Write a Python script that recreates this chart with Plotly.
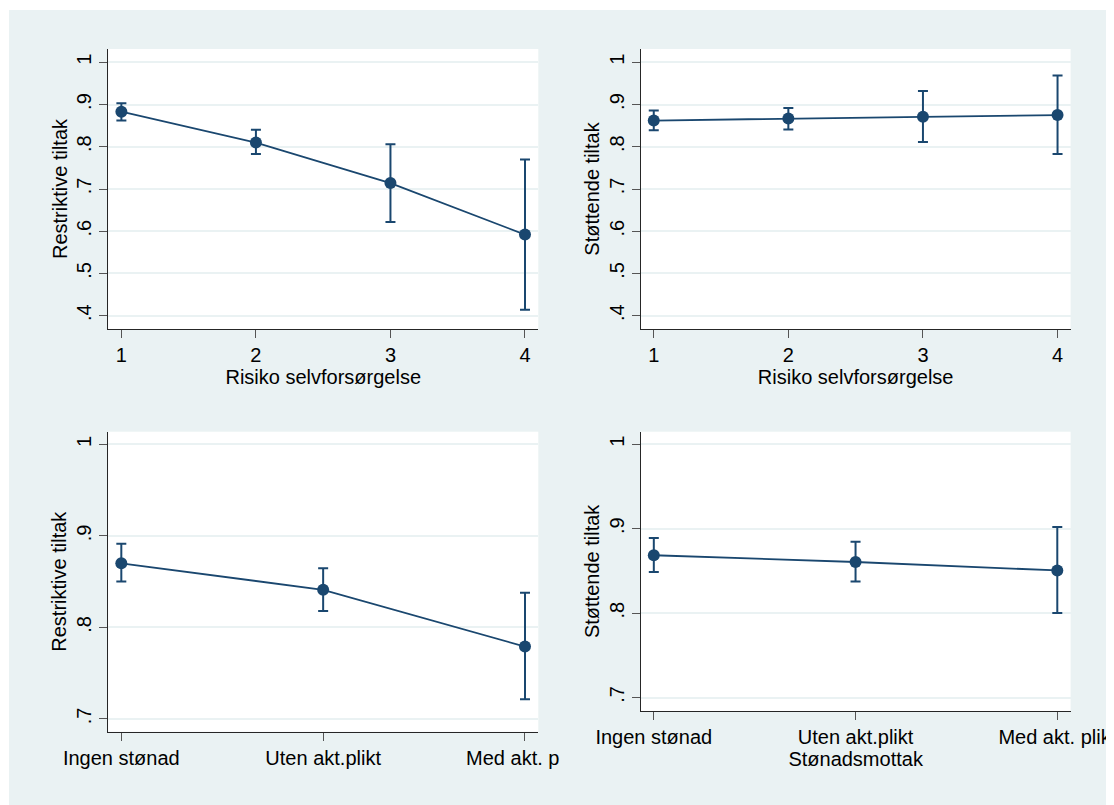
import plotly.graph_objects as go

# ---------------- data ----------------
risk_levels = [1, 2, 3, 4]
risk_ticktext = ["1", "2", "3", "4"]

restr_risk_est = [0.883, 0.810, 0.714, 0.592]
restr_risk_lo = [0.862, 0.783, 0.622, 0.414]
restr_risk_hi = [0.903, 0.840, 0.806, 0.770]

stott_risk_est = [0.862, 0.867, 0.871, 0.875]
stott_risk_lo = [0.839, 0.841, 0.811, 0.783]
stott_risk_hi = [0.886, 0.892, 0.932, 0.969]

stonad_categories = ["Ingen stønad", "Uten akt.plikt", "Med akt. plikt"]
stonad_pos = [1, 2, 3]

restr_stonad_est = [0.870, 0.841, 0.779]
restr_stonad_lo = [0.850, 0.818, 0.7215]
restr_stonad_hi = [0.8915, 0.8646, 0.8377]

stott_stonad_est = [0.8685, 0.8605, 0.8505]
stott_stonad_lo = [0.8486, 0.8375, 0.800]
stott_stonad_hi = [0.889, 0.8846, 0.902]

top_yticks = [0.4, 0.5, 0.6, 0.7, 0.8, 0.9, 1.0]
top_yticktext = [".4", ".5", ".6", ".7", ".8", ".9", "1"]
bot_yticks = [0.7, 0.8, 0.9, 1.0]
bot_yticktext = [".7", ".8", ".9", "1"]

# ---------------- style ----------------
OFF = 8                      # page body margin
W, H = 1114 - OFF, 805 - OFF
BG = "#EAF2F3"
NAVY = "#1A476F"
FONT = "Liberation Sans, Arial, sans-serif"
FS = 20


def px_x(p):
    return (p - OFF) / W


def px_y(p):
    return 1 - (p - OFF) / H


def series(x, est, lo, hi, xa, ya):
    return go.Scatter(
        x=x, y=est, xaxis=xa, yaxis=ya, mode="lines+markers",
        line=dict(color=NAVY, width=1.8),
        marker=dict(color=NAVY, size=12),
        error_y=dict(type="data", symmetric=False,
                     array=[h - e for h, e in zip(hi, est)],
                     arrayminus=[e - l for e, l in zip(est, lo)],
                     color=NAVY, thickness=2, width=5),
        showlegend=False, hoverinfo="skip",
    )


fig = go.Figure()
fig.add_trace(series(risk_levels, restr_risk_est, restr_risk_lo, restr_risk_hi, "x", "y"))
fig.add_trace(series(risk_levels, stott_risk_est, stott_risk_lo, stott_risk_hi, "x2", "y2"))
fig.add_trace(series(stonad_pos, restr_stonad_est, restr_stonad_lo, restr_stonad_hi, "x3", "y3"))
fig.add_trace(series(stonad_pos, stott_stonad_est, stott_stonad_lo, stott_stonad_hi, "x4", "y4"))

axis_common = dict(
    showline=True, linecolor="#262626", linewidth=1.4, mirror=False,
    ticks="outside", ticklen=8, tickwidth=1.2, tickcolor="#555555",
    zeroline=False, tickfont=dict(family=FONT, size=FS, color="#000"),
    fixedrange=True, automargin=False, ticklabeloverflow="allow",
)


def xaxis(domain, rng, tickvals, ticktext, title, anchor):
    d = dict(axis_common)
    d.update(domain=domain, range=rng, tickvals=tickvals, ticktext=ticktext,
             showgrid=False, anchor=anchor, tickangle=0)
    if title:
        d["title"] = dict(text=title, font=dict(family=FONT, size=FS, color="#000"), standoff=0)
    return d


def yaxis(domain, rng, tickvals, ticktext, title, anchor):
    d = dict(axis_common)
    d.update(domain=domain, range=rng, tickvals=tickvals, ticktext=ticktext,
             showgrid=True, gridcolor=BG, gridwidth=1.6, anchor=anchor,
             tickangle=-90,
             title=dict(text=title, font=dict(family=FONT, size=FS, color="#000"), standoff=0))
    return d


left_dom = [px_x(108.2), px_x(538.3)]
right_dom = [px_x(640.7), px_x(1070.6)]
top_dom = [px_y(329), px_y(49)]
bl_dom = [px_y(731.7), px_y(431.7)]
br_dom = [px_y(711), px_y(431.7)]

fig.update_layout(
    template="none",
    width=W, height=H,
    margin=dict(l=0, r=0, t=0, b=0, pad=0, autoexpand=False),
    paper_bgcolor=BG, plot_bgcolor="white",
    font=dict(family=FONT, size=FS, color="#000"),
    showlegend=False,
    xaxis=xaxis(left_dom, [0.902, 4.099], risk_levels, risk_ticktext, "Risiko selvforsørgelse", "y"),
    yaxis=yaxis(top_dom, [0.3685, 1.0315], top_yticks, top_yticktext, "Restriktive tiltak", "x"),
    xaxis2=xaxis(right_dom, [0.903, 4.097], risk_levels, risk_ticktext, "Risiko selvforsørgelse", "y2"),
    yaxis2=yaxis(top_dom, [0.3685, 1.0315], top_yticks, top_yticktext, "Støttende tiltak", "x2"),
    xaxis3=xaxis(left_dom, [0.935, 3.066], stonad_pos, stonad_categories, None, "y3"),
    yaxis3=yaxis(bl_dom, [0.686, 1.0138], bot_yticks, bot_yticktext, "Restriktive tiltak", "x3"),
    xaxis4=xaxis(right_dom, [0.935, 3.066], stonad_pos, stonad_categories, "Stønadsmottak", "y4"),
    yaxis4=yaxis(br_dom, [0.684, 1.0149], bot_yticks, bot_yticktext, "Støttende tiltak", "x4"),
    shapes=[
        # thin white border strips of the exported image
        dict(type="rect", xref="paper", yref="paper", x0=0, x1=1, y0=px_y(10), y1=1,
             fillcolor="white", line=dict(width=0), layer="below"),
        dict(type="rect", xref="paper", yref="paper", x0=0, x1=px_x(9), y0=0, y1=1,
             fillcolor="white", line=dict(width=0), layer="below"),
        # clipping of the lower-left panel at its right edge
        dict(type="rect", xref="paper", yref="paper", x0=px_x(560), x1=px_x(594),
             y0=px_y(778), y1=px_y(747), fillcolor=BG, line=dict(width=0), layer="above"),
    ],
)

fig.write_html("out.html")
